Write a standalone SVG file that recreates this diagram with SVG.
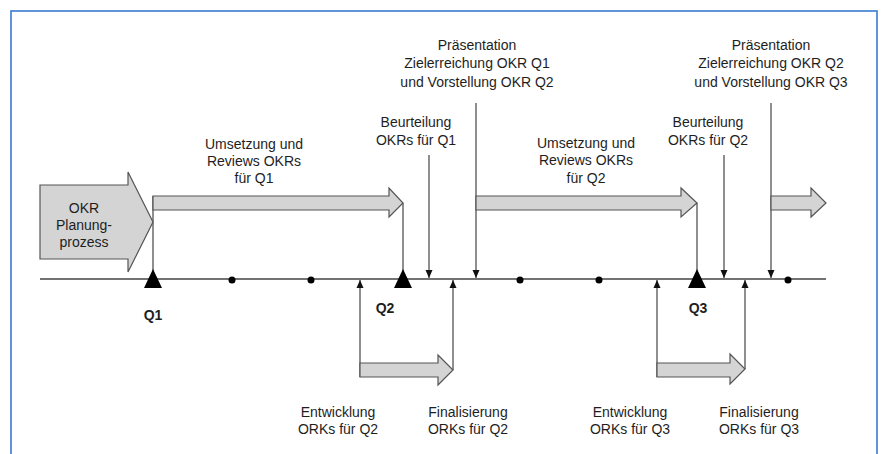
<svg xmlns="http://www.w3.org/2000/svg" width="882" height="454" viewBox="0 0 882 454">
<style>
text{font-family:"Liberation Sans",Arial,sans-serif;font-size:14px;fill:#1e1e1e;text-anchor:middle}
.q{font-weight:bold}
.blk{fill:#d4d4d4;stroke:#555;stroke-width:1.2;stroke-linejoin:miter}
.ln{stroke:#444;stroke-width:1.2;fill:none}
.tl{stroke:#444;stroke-width:1.4}
.ms{fill:#000}
</style>
<defs>
<marker id="ah" markerUnits="userSpaceOnUse" markerWidth="8" markerHeight="8" viewBox="0 0 8 8" refX="8" refY="4" orient="auto">
<path d="M0,0.5 L8,4 L0,7.5 Z" fill="#111"/>
</marker>
</defs>
<rect x="11" y="11" width="866" height="460" fill="#fff" stroke="#3a7bd0" stroke-width="1.6"/>

<g id="connectors">
<line class="tl" x1="40" y1="279" x2="826" y2="279"/>
<line class="ln" x1="153" y1="196" x2="153" y2="271"/>
<line class="ln" x1="403" y1="203" x2="403" y2="271"/>
<line class="ln" x1="697" y1="203" x2="697" y2="271"/>
<line class="ln" x1="429" y1="155" x2="429" y2="278" marker-end="url(#ah)"/>
<line class="ln" x1="476" y1="103" x2="476" y2="278" marker-end="url(#ah)"/>
<line class="ln" x1="724" y1="155" x2="724" y2="278" marker-end="url(#ah)"/>
<line class="ln" x1="771" y1="103" x2="771" y2="278" marker-end="url(#ah)"/>
<line class="ln" x1="360" y1="377" x2="360" y2="280" marker-end="url(#ah)"/>
<line class="ln" x1="453" y1="370" x2="453" y2="280" marker-end="url(#ah)"/>
<line class="ln" x1="657" y1="377" x2="657" y2="280" marker-end="url(#ah)"/>
<line class="ln" x1="745" y1="369" x2="745" y2="280" marker-end="url(#ah)"/>
</g>

<g id="planung">
<path class="blk" d="M40,185 H128 V172 L153,222 L128,272 V259 H40 Z"/>
<text x="84" y="213">OKR</text>
<text x="84" y="230">Planung-</text>
<text x="84" y="247">prozess</text>
</g>

<g id="umsetzung-q1">
<path class="blk" d="M153,196 H389 V188 L403,203 L389,217 V210 H153 Z"/>
<text x="254" y="149">Umsetzung und</text>
<text x="254" y="166">Reviews OKRs</text>
<text x="254" y="183">für Q1</text>
</g>

<g id="umsetzung-q2">
<path class="blk" d="M476,196 H681 V188 L697,203 L681,217 V210 H476 Z"/>
<text x="586" y="148">Umsetzung und</text>
<text x="586" y="165">Reviews OKRs</text>
<text x="586" y="183">für Q2</text>
</g>

<g id="umsetzung-q3">
<path class="blk" d="M771,196 H811 V188 L826,203 L811,217 V210 H771 Z"/>
</g>

<g id="entwicklung-q2">
<path class="blk" d="M360,363 H438 V355 L453,370 L438,385 V377 H360 Z"/>
<text x="338" y="417">Entwicklung</text>
<text x="338" y="434">ORKs für Q2</text>
</g>
<g id="finalisierung-q2">
<text x="468" y="417">Finalisierung</text>
<text x="468" y="434">ORKs für Q2</text>
</g>

<g id="entwicklung-q3">
<path class="blk" d="M657,363 H730 V354 L745,369 L730,384 V377 H657 Z"/>
<text x="630" y="417">Entwicklung</text>
<text x="630" y="434">ORKs für Q3</text>
</g>
<g id="finalisierung-q3">
<text x="759" y="417">Finalisierung</text>
<text x="759" y="434">ORKs für Q3</text>
</g>

<g id="beurteilung-q1">
<text x="416" y="127">Beurteilung</text>
<text x="416" y="145">OKRs für Q1</text>
</g>
<g id="beurteilung-q2">
<text x="708" y="127">Beurteilung</text>
<text x="708" y="145">OKRs für Q2</text>
</g>

<g id="praesentation-q1">
<text x="477" y="50">Präsentation</text>
<text x="477" y="68">Zielerreichung OKR Q1</text>
<text x="477" y="87">und Vorstellung OKR Q2</text>
</g>
<g id="praesentation-q2">
<text x="771" y="50">Präsentation</text>
<text x="771" y="68">Zielerreichung OKR Q2</text>
<text x="771" y="87">und Vorstellung OKR Q3</text>
</g>

<g id="milestones">
<polygon class="ms" points="153,269 144,288 162,288"/>
<polygon class="ms" points="403,269 394,288 412,288"/>
<polygon class="ms" points="697,269 688,288 706,288"/>
<circle class="ms" cx="232" cy="280" r="3.5"/>
<circle class="ms" cx="311" cy="280" r="3.5"/>
<circle class="ms" cx="520" cy="280" r="3.5"/>
<circle class="ms" cx="599" cy="280" r="3.5"/>
<circle class="ms" cx="788" cy="280" r="3.5"/>
<text class="q" x="153" y="320">Q1</text>
<text class="q" x="385" y="313">Q2</text>
<text class="q" x="698" y="313">Q3</text>
</g>
</svg>
